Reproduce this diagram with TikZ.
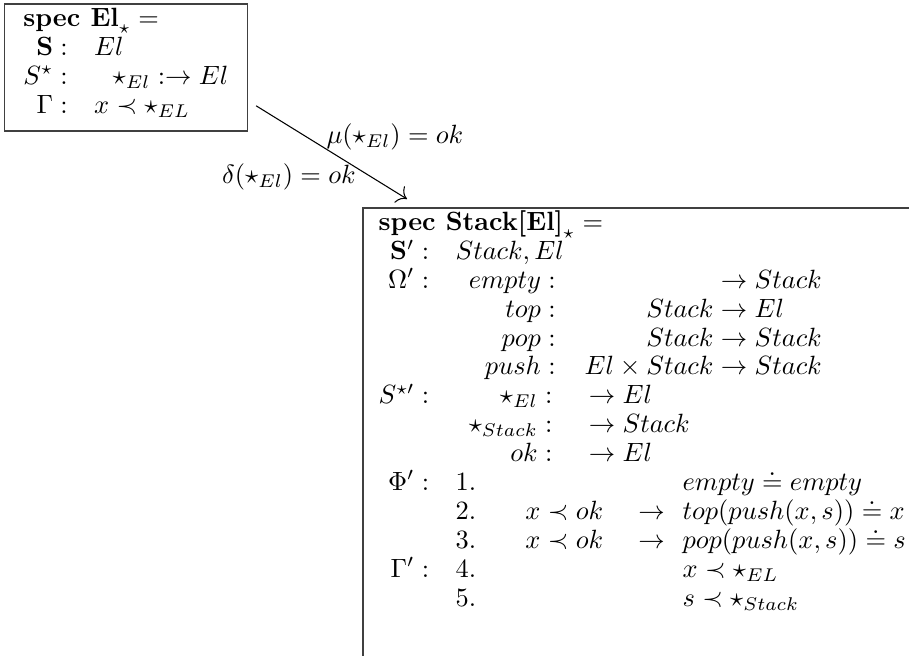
\documentclass[tikz,border=0pt]{standalone}
\usepackage{amsmath,amssymb}
\usepackage{tikz}
\usetikzlibrary{calc,arrows.meta}
\renewcommand{\arraystretch}{0.91}

\begin{document}
\begin{tikzpicture}[x=0.3788pt,y=-0.3788pt,
    specbox/.style={draw=black!75,line width=0.6pt},
    lbl/.style={inner sep=0pt}]
  % page cut as in the reference (right and bottom of the second box cut off)
  \useasboundingbox (0,0) rectangle (909,655);
  \clip (0,0) rectangle (909,655);
  % spec El_*
  \node[specbox,anchor=north west,inner xsep=2.2pt,inner ysep=1pt] (el) at (3.5,3) {$\begin{array}{rl}
      \multicolumn{2}{l}{\textbf{spec El}_\star =}\\
      \mathbf{S}: & El\\
      S^\star: & \hspace{7pt}\star_{El} :\to El\\
      \Gamma: & x\prec\star_{EL}\\[2.5pt]
    \end{array}$};
  % spec Stack[El]_*
  \node[anchor=north west,inner xsep=0.7pt,inner ysep=0.8pt] (stack) at (363,208) {$\begin{array}{rl}
      \multicolumn{2}{l}{\textbf{spec Stack[El]}_\star =}\\
      \mathbf{S}': & Stack, El\\
      \Omega': & \begin{array}[t]{r@{\hspace{11pt}}r@{\;}l}
        empty: & & \to Stack\\
        top: & Stack & \to El\\
        pop: & Stack & \to Stack\\
        push: & El\times Stack & \to Stack
      \end{array}\\
      S^{\star\prime}: & \begin{array}[t]{r@{\hspace{11pt}}r@{\;}l}
        \star_{El}: & & \to El\\
        \star_{Stack}: & & \to Stack\\
        ok: & & \to El
      \end{array}\\
      \Phi': & \begin{array}[t]{@{}l@{\hspace{18.7pt}}l@{\hspace{13.3pt}}c@{\hspace{6.8pt}}l}
        1. & & & empty\doteq empty\\
        2. & x\prec ok & \to & top(push(x,s))\doteq x\\
        3. & x\prec ok & \to & pop(push(x,s))\doteq s
      \end{array}\\
      \Gamma': & \begin{array}[t]{@{}l@{\hspace{18.7pt}}l@{\hspace{13.3pt}}c@{\hspace{6.8pt}}l}
        4. & \hphantom{x\prec ok} & \hphantom{\to} & x\prec\star_{EL}\\
        5. & & & s\prec\star_{Stack}
      \end{array}
    \end{array}$};
  \draw[specbox] (stack.north west) rectangle ($(stack.south east)+(0,60)$);
  % morphism
  \draw[-{To[scale=1.4]}] ($(el.south east)+(8,-26)$) -- ($(stack.north west)+(44,-9)$)
    node[lbl,pos=0.463,anchor=base west,yshift=1.9pt] (mu) {$\mu(\star_{El}) = ok$}
    node[lbl,pos=0.664,anchor=base east,yshift=-5.9pt] (delta) {$\delta(\star_{El}) = ok$};
\end{tikzpicture}
\end{document}
